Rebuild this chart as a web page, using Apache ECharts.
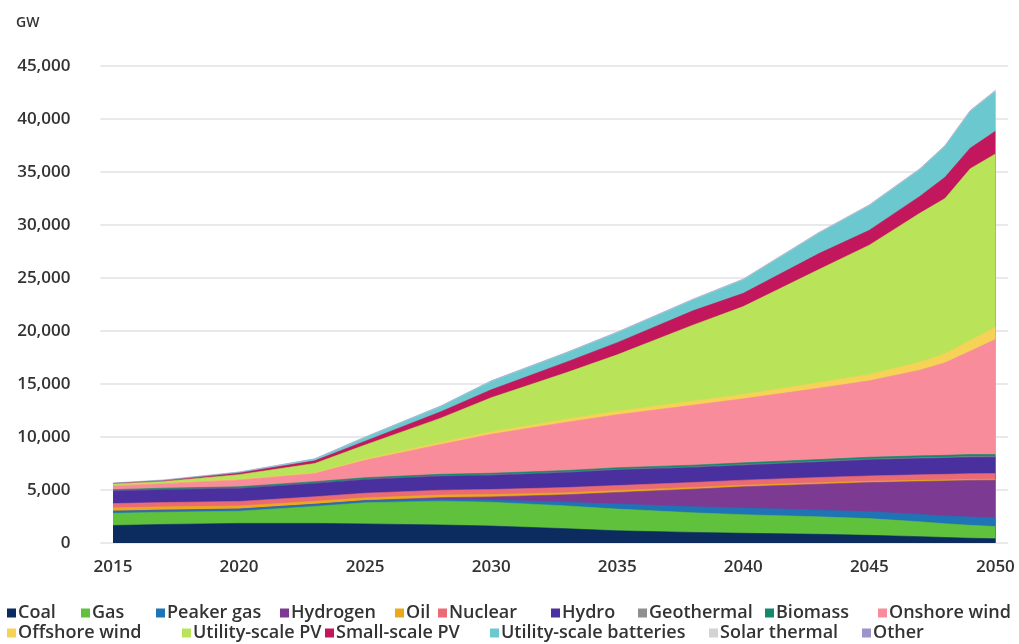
<!DOCTYPE html>
<html>
<head>
<meta charset="utf-8">
<script src="https://cdn.jsdelivr.net/npm/echarts@6/dist/echarts.min.js"></script>
<style>
html,body{margin:0;padding:0;background:#fff;}
#chart{width:1019px;height:644px;}
</style>
</head>
<body>
<div id="chart"></div>
<script>
// ---- data (GW) ----
const years = [2015, 2017, 2020, 2023, 2025, 2028, 2030, 2033, 2035, 2038, 2040, 2043, 2045, 2047, 2048, 2049, 2050];
const xTickLabels = [2015, 2020, 2025, 2030, 2035, 2040, 2045, 2050];

const coal        = [1650, 1750, 1850, 1850, 1800, 1700, 1600, 1350, 1150, 1000, 920, 820, 720, 600, 520, 450, 400];
const gas         = [1150, 1150, 1150, 1600, 2000, 2250, 2250, 2150, 2050, 1850, 1750, 1650, 1580, 1400, 1300, 1220, 1150];
const peakerGas   = [200, 200, 200, 200, 180, 180, 200, 350, 470, 580, 630, 630, 650, 700, 730, 780, 820];
const hydrogen    = [0, 0, 0, 0, 20, 150, 300, 700, 1100, 1650, 2000, 2450, 2750, 3100, 3300, 3450, 3550];
const oil         = [320, 310, 300, 280, 260, 240, 220, 200, 180, 160, 150, 130, 120, 110, 100, 100, 90];
const nuclear     = [400, 410, 420, 430, 440, 460, 480, 480, 470, 470, 480, 500, 510, 520, 530, 540, 540];
const hydro       = [1200, 1230, 1250, 1280, 1300, 1330, 1350, 1420, 1480, 1420, 1410, 1460, 1520, 1540, 1540, 1550, 1550];
const geothermal  = [15, 15, 15, 18, 20, 25, 30, 35, 40, 45, 50, 55, 60, 65, 65, 70, 70];
const biomass     = [100, 105, 120, 130, 140, 145, 150, 155, 160, 165, 170, 175, 180, 185, 185, 190, 190];
const onshoreWind = [365, 430, 645, 762, 1640, 2820, 3670, 4560, 5000, 5660, 6040, 6730, 7210, 8080, 8730, 9750, 10840];
const offshoreWind= [12, 18, 35, 60, 100, 180, 230, 280, 320, 380, 420, 520, 600, 750, 850, 1000, 1150];
const utilityPV   = [148, 182, 465, 890, 1350, 2300, 3220, 4400, 5330, 7170, 8280, 10680, 12200, 14050, 14650, 16200, 16350];
const smallPV     = [50, 70, 150, 250, 350, 600, 750, 1000, 1150, 1350, 1250, 1500, 1400, 1600, 2000, 1950, 2150];
const batteries   = [0, 35, 54, 152, 350, 500, 790, 850, 930, 1025, 1270, 1915, 2310, 2505, 2905, 3450, 3750];
const solarThermal= [5, 5, 6, 8, 10, 15, 20, 25, 30, 35, 40, 45, 50, 55, 55, 60, 60];
const other       = [40, 40, 40, 40, 40, 40, 40, 40, 40, 40, 40, 40, 40, 40, 40, 40, 40];

const seriesNames = ['Coal','Gas','Peaker gas','Hydrogen','Oil','Nuclear','Hydro','Geothermal','Biomass','Onshore wind','Offshore wind','Utility-scale PV','Small-scale PV','Utility-scale batteries','Solar thermal','Other'];
const seriesValues = [coal, gas, peakerGas, hydrogen, oil, nuclear, hydro, geothermal, biomass, onshoreWind, offshoreWind, utilityPV, smallPV, batteries, solarThermal, other];
const seriesColors = ['#0c2b5e','#60c13c','#1f74b6','#7d3a93','#e9a91c','#ea6a76','#4a2f9e','#8f8f8f','#13886c','#f88c9a','#f6d257','#b9e45a','#c2175c','#6cc8cf','#d3d3d3','#9b95cb'];

// legend placement (layout only)
const legendPos = [
  [7,0],[81,0],[156,0],[280,0],[395,0],[438,0],[551,0],[638,0],[765,0],[878,0],
  [7,1],[182,1],[325,1],[490,1],[709,1],[862,1]
];

// Stack: running totals of the series above, in stacking order
const cumulative = [];
seriesValues.forEach((vals, i) => {
  cumulative.push(vals.map((v, k) => v + (i > 0 ? cumulative[i - 1][k] : 0)));
});

const chart = echarts.init(document.getElementById('chart'), null, {renderer:'canvas'});
const fontFam = '"Open Sans", "Noto Sans", sans-serif';

// Draw from the top layer down so that each lower layer covers the one above it below its own top edge
const series = [];
for (let i = seriesNames.length - 1; i >= 0; i--) {
  series.push({
    name: seriesNames[i],
    type: 'line',
    symbol: 'none',
    showSymbol: false,
    data: years.map((y, k) => [y, cumulative[i][k]]),
    lineStyle: {width: 0.6, color: seriesColors[i]},
    itemStyle: {color: seriesColors[i]},
    areaStyle: {color: seriesColors[i], opacity: 1, origin: 'start'},
    emphasis: {disabled: true}
  });
}

const legends = seriesNames.map((name, i) => ({
  data: [name],
  left: legendPos[i][0],
  top: legendPos[i][1] === 0 ? 604 : 624,
  icon: 'rect',
  itemWidth: 9,
  itemHeight: 9,
  padding: 0,
  selectedMode: false,
  textStyle: {fontFamily: fontFam, fontSize: 18, fontWeight: 600, color: '#333', padding: [0,0,0,-3]}
}));

chart.setOption({
  animation: false,
  backgroundColor: '#fff',
  title: {
    text: 'GW', left: 11, top: 11,
    textStyle: {fontFamily: fontFam, fontSize: 14, fontWeight: 600, color: '#333'}
  },
  legend: legends,
  grid: {left: 100.4, right: 11, top: 66, bottom: 101, containLabel: false},
  xAxis: {
    type: 'value',
    min: 2014.5, max: 2050.5,
    axisLine: {show: false},
    axisTick: {show: false},
    splitLine: {show: false},
    axisLabel: {
      customValues: xTickLabels,
      formatter: v => String(v),
      fontFamily: fontFam, fontSize: 17, fontWeight: 600, color: '#333', margin: 16
    }
  },
  yAxis: {
    type: 'value',
    min: 0, max: 45000, interval: 5000,
    axisLine: {show: false},
    axisTick: {show: false},
    splitLine: {lineStyle: {color: '#e2e2e2', width: 1.5}},
    axisLabel: {fontFamily: fontFam, fontSize: 17, fontWeight: 600, color: '#333', margin: 30}
  },
  series: series
});
</script>
</body>
</html>
